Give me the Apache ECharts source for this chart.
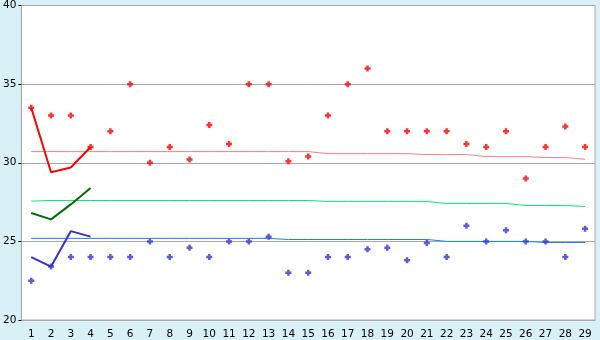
<!DOCTYPE html>
<html>
<head>
<meta charset="utf-8">
<script src="https://cdn.jsdelivr.net/npm/echarts@6/dist/echarts.min.js"></script>
<style>
html,body{margin:0;padding:0;background:#d9f0f7;}
#c{width:600px;height:340px;}
</style>
</head>
<body>
<div id="c"></div>
<script>
var categories = ['1','2','3','4','5','6','7','8','9','10','11','12','13','14','15','16','17','18','19','20','21','22','23','24','25','26','27','28','29'];
var yTicks = [20, 25, 30, 35, 40];

var redPoints = [33.5, 33, 33, 31, 32, 35, 30, 31, 30.2, 32.4, 31.2, 35, 35, 30.1, 30.4, 33, 35, 36, 32, 32, 32, 32, 31.2, 31, 32, 29, 31, 32.3, 31];
var bluePoints = [22.5, 23.4, 24, 24, 24, 24, 25, 24, 24.6, 24, 25, 25, 25.3, 23, 23, 24, 24, 24.5, 24.6, 23.8, 24.9, 24, 26, 25, 25.7, 25, 25, 24, 25.8];

var redLine = [33.5, 29.4, 29.7, 31];
var greenLine = [26.8, 26.4, 27.35, 28.4];
var blueLine = [24, 23.4, 25.65, 25.3];

var redAvg = [30.71, 30.71, 30.71, 30.71, 30.71, 30.71, 30.71, 30.71, 30.71, 30.71, 30.71, 30.71, 30.71, 30.71, 30.71, 30.58, 30.58, 30.58, 30.58, 30.58, 30.52, 30.52, 30.52, 30.39, 30.39, 30.39, 30.33, 30.33, 30.22];
var greenAvg = [27.56, 27.6, 27.6, 27.6, 27.6, 27.6, 27.6, 27.6, 27.6, 27.6, 27.6, 27.6, 27.6, 27.6, 27.6, 27.54, 27.54, 27.54, 27.54, 27.54, 27.54, 27.41, 27.41, 27.41, 27.41, 27.28, 27.28, 27.28, 27.22];
var blueAvg = [25.19, 25.19, 25.19, 25.19, 25.19, 25.19, 25.19, 25.19, 25.19, 25.19, 25.19, 25.19, 25.19, 25.12, 25.12, 25.12, 25.12, 25.12, 25.12, 25.12, 25.12, 25.0, 25.0, 25.0, 25.0, 25.0, 24.93, 24.93, 24.93];

var plusSym = 'path://M1.75,0H4.25V1.75H6V4.25H4.25V6H1.75V4.25H0V1.75H1.75Z';

var chart = echarts.init(document.getElementById('c'), null, {renderer:'canvas'});
function avgSeries(d, color){
  return {type:'line', data:d, symbol:'none', silent:true, z:2,
    lineStyle:{color:color, width:1}, animation:false};
}
function mainLine(d, color){
  return {type:'line', data:d, symbol:'none', silent:true, z:3,
    lineStyle:{color:color, width:2}, animation:false};
}
function pts(d, color){
  return {type:'scatter', data:d, symbol:plusSym, symbolSize:6, z:4,
    itemStyle:{color:color}, animation:false};
}
chart.setOption({
  animation:false,
  backgroundColor:'#d9f0f7',
  textStyle:{fontFamily:'DejaVu Sans'},
  grid:{left:20, right:5, top:5, bottom:20, show:true, backgroundColor:'#ffffff', borderColor:'#aaaaaa', borderWidth:1},
  xAxis:{
    type:'category', data:categories, boundaryGap:true,
    axisLine:{lineStyle:{color:'#a8a8a8', width:1}},
    axisTick:{alignWithLabel:true, length:5, lineStyle:{color:'#000'}},
    axisLabel:{color:'#000', fontSize:10.5, margin:9, interval:0, fontFamily:'DejaVu Sans'},
    splitLine:{show:false}
  },
  yAxis:{
    type:'value', min:yTicks[0], max:yTicks[yTicks.length-1], interval:yTicks[1]-yTicks[0],
    axisLine:{show:true, lineStyle:{color:'#a8a8a8'}},
    axisTick:{show:true, length:3, lineStyle:{color:'#000'}},
    axisLabel:{color:'#000', fontSize:10.5, margin:5, fontFamily:'DejaVu Sans'},
    splitLine:{show:true, lineStyle:{color:'#aaaaaa', width:1}}
  },
  series:[
    avgSeries(redAvg, '#ff8080'),
    avgSeries(greenAvg, '#00ee70'),
    avgSeries(blueAvg, '#1a80f0'),
    mainLine(redLine, '#ff0000'),
    mainLine(greenLine, '#007000'),
    mainLine(blueLine, '#3333cc'),
    pts(redPoints, '#ff0000'),
    pts(bluePoints, '#3333cc')
  ]
});
</script>
</body>
</html>
